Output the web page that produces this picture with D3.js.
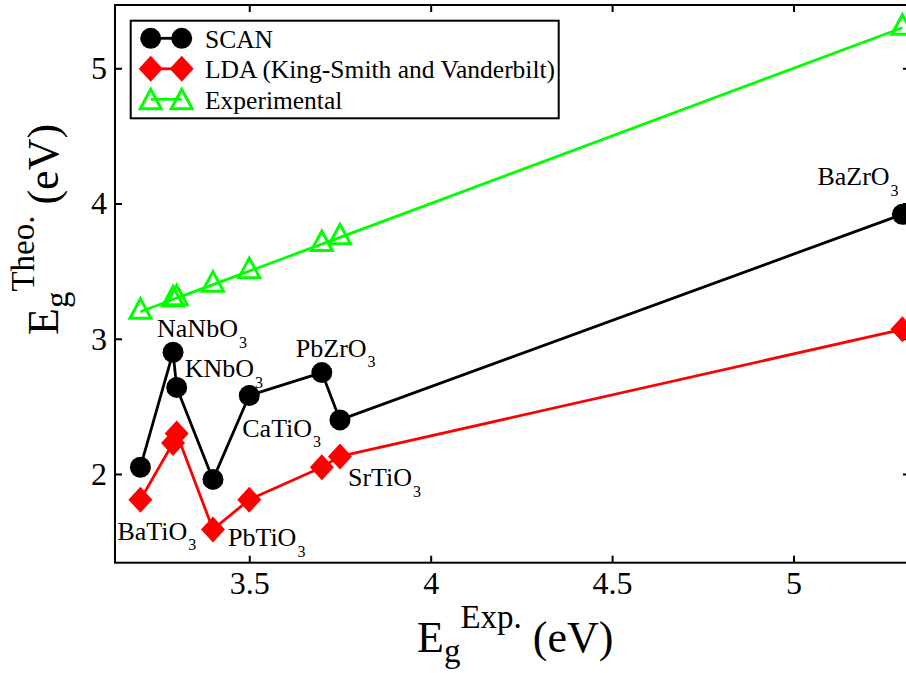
<!DOCTYPE html>
<html>
<head>
<meta charset="utf-8">
<script src="https://cdn.jsdelivr.net/npm/d3@7"></script>
<style>
  html, body { margin: 0; padding: 0; background: #fff; }
  svg { display: block; font-family: "Liberation Serif", "Times New Roman", serif; }
</style>
</head>
<body>
<svg id="chart" width="906" height="673"></svg>
<script>
// Band gaps of perovskite oxides: theory vs experiment (eV)
const materials = ["BaTiO", "NaNbO", "KNbO", "PbTiO", "CaTiO", "PbZrO", "SrTiO", "BaZrO"];
const expGap  = [3.20, 3.29, 3.30, 3.40, 3.50, 3.70, 3.75, 5.30];
const scanGap = [2.05, 2.90, 2.64, 1.96, 2.58, 2.75, 2.40, 3.92];
const ldaGap  = [1.81, 2.23, 2.30, 1.59, 1.81, 2.05, 2.13, 3.07];

const xTicks = [3.5, 4, 4.5, 5];
const yTicks = [2, 3, 4, 5];
const seriesNames = ["SCAN", "LDA (King-Smith and Vanderbilt)", "Experimental"];

// Which series each compound label sits next to, plus its pixel offset
const labelAnchor = [
  { s: "lda",  dx: -23, dy: 40 },   // BaTiO3
  { s: "scan", dx: -16, dy: -15 },  // NaNbO3
  { s: "scan", dx: 8,   dy: -10 },  // KNbO3
  { s: "lda",  dx: 15,  dy: 17 },   // PbTiO3
  { s: "scan", dx: -7,  dy: 41 },   // CaTiO3
  { s: "scan", dx: -26, dy: -16 },  // PbZrO3
  { s: "lda",  dx: 8,   dy: 30 },   // SrTiO3
  { s: "scan", dx: -85, dy: -29 }   // BaZrO3
];

const svg = d3.select("#chart");
svg.append("rect").attr("width", 906).attr("height", 673).attr("fill", "#fff");

const plot = { left: 115, right: 910, top: 5, bottom: 562.7 };
const x = d3.scaleLinear().domain([3.13, 5.321]).range([plot.left, plot.right]);
const y = d3.scaleLinear().domain([1.344, 5.468]).range([plot.bottom, plot.top]);

// Axes with inward ticks on all four sides
const tick = 7;
const gx = svg.append("g").attr("transform", `translate(0,${plot.bottom})`)
  .call(d3.axisBottom(x).tickValues(xTicks).tickSizeInner(-tick).tickSizeOuter(0).tickPadding(9).tickFormat(d3.format("")));
const gy = svg.append("g").attr("transform", `translate(${plot.left},0)`)
  .call(d3.axisLeft(y).tickValues(yTicks).tickSizeInner(-tick).tickSizeOuter(0).tickPadding(8).tickFormat(d3.format("")));
const gt = svg.append("g").attr("transform", `translate(0,${plot.top})`)
  .call(d3.axisTop(x).tickValues(xTicks).tickSizeInner(-tick).tickSizeOuter(0).tickFormat(""));
const gr = svg.append("g").attr("transform", `translate(${plot.right},0)`)
  .call(d3.axisRight(y).tickValues(yTicks).tickSizeInner(-tick).tickSizeOuter(0).tickFormat(""));
[gx, gy, gt, gr].forEach(g => {
  g.attr("font-family", null).attr("font-size", null);
  g.select(".domain").remove();
  g.selectAll(".tick line").attr("stroke", "#000").attr("stroke-width", 2);
  g.selectAll(".tick text").attr("font-size", 32).attr("fill", "#000");
});
svg.append("rect")
  .attr("x", plot.left).attr("y", plot.top)
  .attr("width", plot.right - plot.left).attr("height", plot.bottom - plot.top)
  .attr("fill", "none").attr("stroke", "#000").attr("stroke-width", 2);

// Marker shapes
const diamondPath = "M0,-13L12,0L0,13L-12,0Z";
const trianglePath = "M0,-13L10.5,6.5L-10.5,6.5Z";

function drawSeries(xs, ys, color, kind) {
  const pts = xs.map((v, i) => [x(v), y(ys[i])]);
  svg.append("path").attr("d", d3.line()(pts))
    .attr("fill", "none").attr("stroke", color).attr("stroke-width", 2.8).attr("stroke-linejoin", "round");
  const g = svg.append("g");
  pts.forEach(p => drawMarker(g, p[0], p[1], color, kind));
}
function drawMarker(g, px, py, color, kind) {
  if (kind === "circle") {
    g.append("circle").attr("cx", px).attr("cy", py).attr("r", 10.5).attr("fill", color);
  } else if (kind === "diamond") {
    g.append("path").attr("d", diamondPath).attr("transform", `translate(${px},${py})`).attr("fill", color);
  } else {
    g.append("path").attr("d", trianglePath).attr("transform", `translate(${px},${py})`)
      .attr("fill", "none").attr("stroke", color).attr("stroke-width", 3).attr("stroke-linejoin", "miter");
  }
}

drawSeries(expGap, scanGap, "#000000", "circle");
drawSeries(expGap, ldaGap, "#ff0000", "diamond");
drawSeries(expGap, expGap, "#00ff00", "triangle");

// Compound labels with subscript 3
materials.forEach((m, i) => {
  const a = labelAnchor[i];
  const vy = a.s === "scan" ? scanGap[i] : ldaGap[i];
  const t = svg.append("text")
    .attr("x", x(expGap[i]) + a.dx).attr("y", y(vy) + a.dy)
    .attr("font-size", 26).attr("fill", "#000");
  t.append("tspan").text(m);
  t.append("tspan").attr("font-size", 16).attr("dy", 10.5).attr("dx", 1).text("3");
});

// Legend
const legend = svg.append("g");
legend.append("rect").attr("x", 130.7).attr("y", 20.7).attr("width", 428).attr("height", 97.6)
  .attr("fill", "#fff").attr("stroke", "#000").attr("stroke-width", 2);
const legendColors = ["#000000", "#ff0000", "#00ff00"];
const legendKinds = ["circle", "diamond", "triangle"];
seriesNames.forEach((name, i) => {
  const cy = 38.3 + i * 30.5;
  legend.append("line").attr("x1", 150.7).attr("x2", 181.7).attr("y1", cy).attr("y2", cy)
    .attr("stroke", legendColors[i]).attr("stroke-width", 2.8);
  drawMarker(legend, 150.7, cy + (legendKinds[i] === "triangle" ? 3 : 0), legendColors[i], legendKinds[i]);
  drawMarker(legend, 181.7, cy + (legendKinds[i] === "triangle" ? 3 : 0), legendColors[i], legendKinds[i]);
  legend.append("text").attr("x", 205).attr("y", cy + 9.4).attr("font-size", 25.5).attr("fill", "#000").text(name);
});

// Axis titles
const xt = svg.append("text").attr("x", 417).attr("y", 652).attr("font-size", 44).attr("fill", "#000");
xt.append("tspan").text("E");
xt.append("tspan").attr("font-size", 33).attr("dy", 10).text("g");
xt.append("tspan").attr("font-size", 33).attr("dy", -34).text("Exp.");
xt.append("tspan").attr("dy", 24).text("\u00a0(eV)");

const yt = svg.append("text").attr("transform", "translate(58,335) rotate(-90)")
  .attr("font-size", 44).attr("fill", "#000");
yt.append("tspan").text("E");
yt.append("tspan").attr("font-size", 33).attr("dy", 10).text("g");
yt.append("tspan").attr("font-size", 33).attr("dy", -34).text("Theo.");
yt.append("tspan").attr("dy", 24).text("\u00a0(eV)");
</script>
</body>
</html>
